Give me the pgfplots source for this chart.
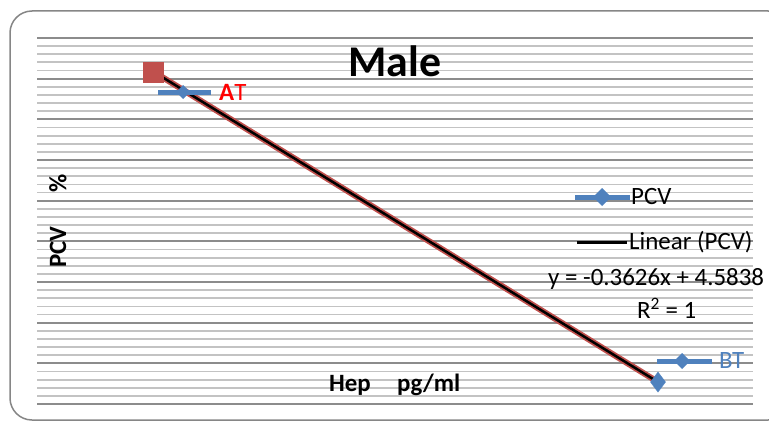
\documentclass[border=0pt]{standalone}
\usepackage{pgfplots}
\pgfplotsset{compat=1.18}
\usepackage{fontspec}
\setmainfont{Carlito}
\definecolor{exblue}{RGB}{79,129,189}
\definecolor{exred}{RGB}{192,80,77}
\definecolor{majgrid}{RGB}{140,140,140}
\definecolor{mingrid}{RGB}{195,195,195}
\definecolor{frame}{RGB}{134,134,134}
\begin{document}
\begin{tikzpicture}[x=1bp,y=1bp]
\useasboundingbox (0,0) rectangle (769,424);
\draw[frame, line width=1.5bp, rounded corners=22bp] (10,424-420) rectangle (790,424-11);
% grid axis
\begin{axis}[
  at={(37bp,20bp)}, anchor=south west,
  scale only axis, width=716bp, height=366bp,
  xmin=0, xmax=1, ymin=0, ymax=45,
  axis line style={draw=none},
  xtick=\empty,
  ytick={0,5,...,45},
  minor ytick={0,...,45},
  yticklabels={},
  major tick length=0pt, minor tick length=0pt,
  tick style={draw=none},
  ymajorgrids, yminorgrids,
  major grid style={majgrid, line width=2bp},
  minor grid style={mingrid, line width=1.8bp},
]
\addplot[draw=none, forget plot] coordinates {(0,0)};
\end{axis}
% data axis
\begin{axis}[
  at={(37bp,20bp)}, anchor=south west,
  scale only axis, width=716bp, height=366bp,
  xmin=0.7679, xmax=2.1885, ymin=3.8329, ymax=4.2610,
  axis lines=none, clip=false,
]
\addplot[exred, line width=6bp, mark=square*, mark indices={1}, mark size=10bp, mark options={solid, fill=exred, draw=exred, line width=0pt}]
  coordinates {(1,4.2212) (2,3.8586)};
\addplot[exblue, draw=none, mark=diamond*, mark indices={2}, mark size=10bp, mark options={fill=exblue, draw=exblue}]
  coordinates {(1,4.2212) (2,3.8586)};
\addplot[black, line width=2.5bp] coordinates {(1,4.2212) (2,3.8586)};
\end{axis}
% data labels with legend keys
\draw[exblue, line width=5bp] (158,424-92) -- (211,424-92);
\fill[exblue] (183,424-92+7) -- (190,424-92) -- (183,424-92-7) -- (176,424-92) -- cycle;
\node[anchor=west, text=red, font=\fontsize{25}{28}\selectfont, inner sep=0pt] at (219,424-92) {\textbf{A}T};
\draw[exblue, line width=5bp] (657,424-361) -- (712,424-361);
\fill[exblue] (682,424-361+8) -- (690,424-361) -- (682,424-361-8) -- (674,424-361) -- cycle;
\node[anchor=west, text=exblue, font=\fontsize{25}{28}\selectfont, inner sep=0pt] at (719,424-361) {BT};
% legend
\draw[exblue, line width=5bp] (575,424-197) -- (630,424-197);
\fill[exblue] (602,424-197+9) -- (611,424-197) -- (602,424-197-9) -- (593,424-197) -- cycle;
\node[anchor=west, font=\fontsize{25}{28}\selectfont, inner sep=0pt] at (631,424-197) {PCV};
\draw[black, line width=3bp] (577,424-242) -- (627,424-242);
\node[anchor=west, font=\fontsize{25}{28}\selectfont, inner sep=0pt] at (629,424-242) {Linear (PCV)};
\node[anchor=west, font=\fontsize{25}{28}\selectfont, inner sep=0pt] at (548,424-279) {y = -0.3626x + 4.5838};
\node[anchor=west, font=\fontsize{25}{28}\selectfont, inner sep=0pt] at (637,424-308) {R\textsuperscript{2} = 1};
% title and axis labels
\node[font=\fontsize{44}{48}\selectfont\bfseries, inner sep=0pt] at (395,424-61) {Male};
\node[font=\fontsize{25}{28}\selectfont\bfseries, inner sep=0pt, anchor=west] at (329,424-385) {Hep};
\node[font=\fontsize{25}{28}\selectfont\bfseries, inner sep=0pt, anchor=west] at (397,424-385) {pg/ml};
\node[font=\fontsize{25}{28}\selectfont\bfseries, inner sep=0pt, rotate=90] at (58,424-247) {PCV};
\node[font=\fontsize{25}{28}\selectfont\bfseries, inner sep=0pt, rotate=90] at (58,424-183) {\%};
\end{tikzpicture}
\end{document}
